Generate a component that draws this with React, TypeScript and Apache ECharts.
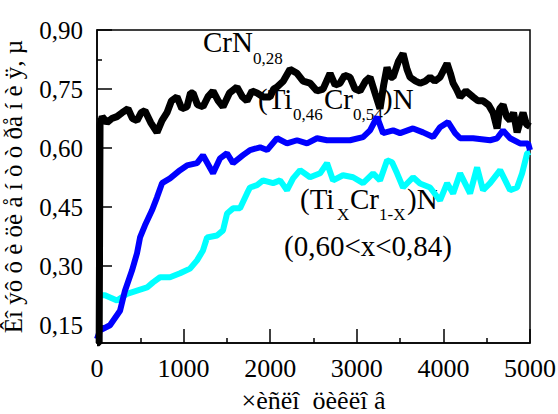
import React, { useEffect, useRef } from "react";
import * as echarts from "echarts";

const xTicks = [0, 1000, 2000, 3000, 4000, 5000];
const yTicks = [0.15, 0.3, 0.45, 0.6, 0.75, 0.9];
const yMinorTicks = [0.225, 0.375, 0.525, 0.675, 0.825];
const xName = "×èñëî  öèêëî â";
const yName = "Êî ýô ô è öè å í ò ò ðå í è ÿ, µ";

const crnData: [number, number][] = [
  [0, 0.105], [25, 0.105], [35, 0.66], [60, 0.68], [115, 0.665], [170, 0.675], [230, 0.68], [290, 0.69],
  [358, 0.7], [410, 0.675], [462, 0.67], [510, 0.69], [554, 0.695], [620, 0.665], [693, 0.64], [750, 0.67],
  [808, 0.69], [860, 0.72], [924, 0.73], [980, 0.7], [1039, 0.705], [1080, 0.74], [1109, 0.74], [1160, 0.71],
  [1224, 0.705], [1280, 0.73], [1340, 0.745], [1400, 0.72], [1455, 0.705], [1530, 0.74], [1617, 0.755],
  [1680, 0.73], [1732, 0.72], [1790, 0.745], [1848, 0.74], [1920, 0.73], [1998, 0.73], [2040, 0.75],
  [2079, 0.755], [2150, 0.77], [2229, 0.8], [2310, 0.79], [2380, 0.77], [2460, 0.765], [2540, 0.745],
  [2610, 0.75], [2691, 0.79], [2750, 0.76], [2806, 0.765], [2860, 0.785], [2922, 0.78], [2980, 0.75],
  [3037, 0.745], [3100, 0.77], [3153, 0.78], [3210, 0.74], [3268, 0.7], [3310, 0.76], [3349, 0.805],
  [3390, 0.78], [3419, 0.78], [3480, 0.82], [3534, 0.84], [3580, 0.8], [3615, 0.78], [3680, 0.77],
  [3730, 0.765], [3790, 0.77], [3846, 0.78], [3900, 0.77], [3961, 0.78], [4042, 0.815], [4080, 0.79],
  [4112, 0.765], [4150, 0.75], [4193, 0.73], [4260, 0.745], [4343, 0.73], [4400, 0.72], [4458, 0.72],
  [4520, 0.71], [4574, 0.69], [4620, 0.65], [4650, 0.7], [4689, 0.71], [4730, 0.68], [4770, 0.67],
  [4810, 0.69], [4851, 0.64], [4890, 0.67], [4920, 0.69], [4960, 0.66], [5000, 0.655],
];

const tiCrData: [number, number][] = [
  [0, 0.115], [35, 0.137], [150, 0.15], [266, 0.187], [323, 0.238], [404, 0.289], [462, 0.333],
  [497, 0.373], [554, 0.404], [635, 0.442], [693, 0.475], [751, 0.511], [843, 0.523], [959, 0.544],
  [1039, 0.556], [1155, 0.562], [1224, 0.582], [1340, 0.536], [1421, 0.574], [1501, 0.587], [1571, 0.562],
  [1686, 0.582], [1767, 0.595], [1883, 0.602], [1964, 0.595], [2079, 0.625], [2194, 0.612], [2310, 0.62],
  [2425, 0.612], [2541, 0.625], [2656, 0.62], [2806, 0.62], [2922, 0.62], [3072, 0.628], [3153, 0.645],
  [3234, 0.679], [3303, 0.638], [3419, 0.645], [3500, 0.638], [3650, 0.65], [3765, 0.64], [3881, 0.628],
  [3961, 0.653], [4054, 0.666], [4135, 0.638], [4193, 0.625], [4343, 0.625], [4539, 0.62], [4620, 0.625],
  [4689, 0.645], [4770, 0.625], [4885, 0.612], [4978, 0.612], [5000, 0.595],
];

const tiXData: [number, number][] = [
  [0, 0.226], [92, 0.226], [231, 0.213], [347, 0.23], [462, 0.238], [578, 0.246], [647, 0.259],
  [728, 0.272], [843, 0.272], [959, 0.282], [1074, 0.294], [1155, 0.315], [1224, 0.34], [1271, 0.373],
  [1386, 0.378], [1455, 0.391], [1502, 0.434], [1571, 0.447], [1652, 0.447], [1732, 0.485], [1767, 0.5],
  [1848, 0.506], [1917, 0.518], [2033, 0.511], [2114, 0.518], [2194, 0.493], [2264, 0.523], [2345, 0.544],
  [2460, 0.526], [2576, 0.536], [2656, 0.562], [2726, 0.518], [2841, 0.531], [2957, 0.526], [3072, 0.511],
  [3188, 0.536], [3268, 0.518], [3350, 0.569], [3407, 0.564], [3465, 0.536], [3534, 0.5], [3650, 0.526],
  [3730, 0.51], [3846, 0.5], [3961, 0.467], [4043, 0.511], [4112, 0.485], [4193, 0.536], [4308, 0.485],
  [4389, 0.551], [4458, 0.493], [4539, 0.511], [4655, 0.544], [4770, 0.493], [4851, 0.5], [4909, 0.536],
  [4967, 0.587], [5000, 0.59],
];

const SERIF = "Liberation Serif";
const Y_MIN = 0.105;

function txt(
  text: string,
  x: number,
  y: number,
  size: number,
  align: string = "left",
  vAlign: string = "middle",
  rotation: number = 0
) {
  return {
    type: "text",
    x,
    y,
    z: 0,
    rotation,
    style: {
      text,
      fontSize: size,
      fontFamily: SERIF,
      fill: "#000",
      textAlign: align,
      textVerticalAlign: vAlign,
    },
  };
}

export default function App() {
  const ref = useRef<HTMLDivElement>(null);
  useEffect(() => {
    if (!ref.current) return;
    const chart = echarts.init(ref.current, null, { renderer: "svg" });
    const fmt = (v: number) => v.toFixed(2).replace(".", ",");
    const axisLineStyle = { color: "#000", width: 1.5 };
    chart.setOption({
      animation: false,
      backgroundColor: "#fff",
      grid: {
        left: 97,
        right: 28,
        top: 30,
        bottom: 71,
        show: true,
        borderColor: "#000",
        borderWidth: 1.5,
        containLabel: false,
        outerBoundsMode: "none",
      },
      xAxis: {
        type: "value",
        min: 0,
        max: 5000,
        interval: 1000,
        axisLine: { show: true, onZero: false, lineStyle: axisLineStyle },
        axisTick: { show: true, inside: true, length: 14, lineStyle: axisLineStyle },
        minorTick: { show: true, splitNumber: 2, length: 5, lineStyle: axisLineStyle },
        splitLine: { show: false },
        axisLabel: { show: false },
      },
      yAxis: [
        {
          type: "value",
          min: Y_MIN,
          max: 0.9,
          axisLine: { show: true, onZero: false, lineStyle: axisLineStyle },
          axisTick: { show: true, inside: true, length: 15, customValues: yTicks, lineStyle: axisLineStyle },
          splitLine: { show: false },
          axisLabel: { show: false },
        },
        {
          type: "value",
          min: Y_MIN,
          max: 0.9,
          position: "left",
          axisLine: { show: false },
          axisTick: { show: true, inside: true, length: 5, customValues: yMinorTicks, lineStyle: axisLineStyle },
          splitLine: { show: false },
          axisLabel: { show: false },
        },
      ],
      series: [
        { type: "line", data: tiXData, showSymbol: false, lineStyle: { color: "#00ffff", width: 6 }, z: 2 },
        { type: "line", data: tiCrData, showSymbol: false, lineStyle: { color: "#0000ff", width: 6 }, z: 3 },
        { type: "line", data: crnData, showSymbol: false, lineStyle: { color: "#000000", width: 7 }, z: 4 },
      ],
    });

    const labels: any[] = [];
    xTicks.forEach((v) => {
      const p = chart.convertToPixel({ gridIndex: 0 }, [v, Y_MIN]) as number[];
      labels.push(txt(String(v), p[0], p[1] + 12, 26, "center", "top"));
    });
    yTicks.forEach((v) => {
      const p = chart.convertToPixel({ gridIndex: 0 }, [0, v]) as number[];
      labels.push(txt(fmt(v), p[0] - 14, p[1], 25, "right", "middle"));
    });
    const c0 = chart.convertToPixel({ gridIndex: 0 }, [0, Y_MIN]) as number[];
    const c1 = chart.convertToPixel({ gridIndex: 0 }, [5000, 0.9]) as number[];
    labels.push(txt(xName, (c0[0] + c1[0]) / 2, c0[1] + 57, 26, "center", "middle"));
    labels.push(txt(yName, 13, (c0[1] + c1[1]) / 2, 25, "center", "middle", Math.PI / 2));

    chart.setOption({
      graphic: [
        txt("CrN", 203, 42, 29),
        txt("0,28", 253, 58, 17),
        txt("(Ti", 258, 99, 29),
        txt("0,46", 293, 114, 17),
        txt("Cr", 324, 99, 29),
        txt("0,54", 353, 114, 17),
        txt(")N", 383, 99, 29),
        txt("(Ti", 300, 199, 29),
        txt("X", 337, 214, 17),
        txt("Cr", 350, 199, 29),
        txt("1-X", 379, 214, 17),
        txt(")N", 407, 199, 29),
        txt("(0,60<x<0,84)", 284, 246, 29),
        ...labels,
      ],
    });
    return () => chart.dispose();
  }, []);
  return <div ref={ref} style={{ width: 558, height: 414, position: "absolute", left: 0, top: 0 }} />;
}
